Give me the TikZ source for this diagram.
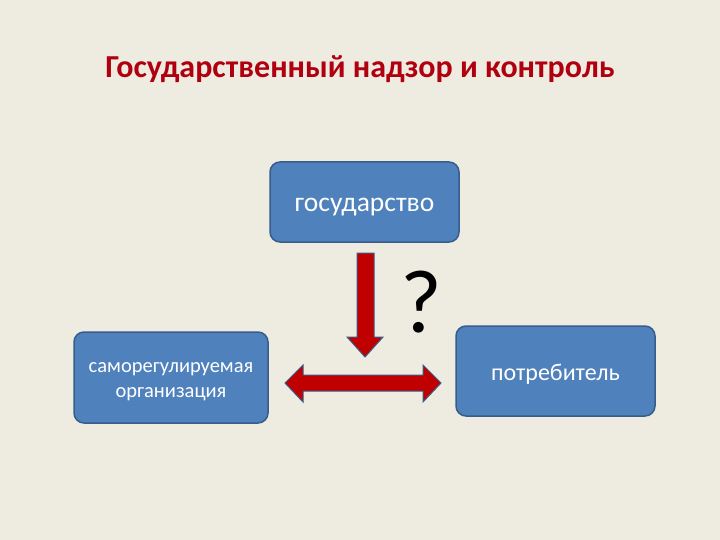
\documentclass[tikz,border=0pt]{standalone}
\usepackage{fontspec}
\setmainfont{Carlito}
\usetikzlibrary{positioning}
\definecolor{slidebg}{RGB}{238,236,225}
\definecolor{boxblue}{RGB}{79,129,189}
\definecolor{boxedge}{RGB}{56,93,138}
\definecolor{arrowred}{RGB}{192,0,0}
\definecolor{titlered}{RGB}{176,0,16}
\begin{document}
\begin{tikzpicture}[x=1pt,y=-1pt,
  box/.style={draw=boxedge,fill=boxblue,line width=1.5pt,rounded corners=10pt,text=white,align=center,inner sep=0pt,text depth=0pt},
  blockarrow/.style={draw=boxedge,fill=arrowred,line width=1pt,line join=miter}]
\useasboundingbox[fill=slidebg] (0,0) rectangle (720,540);
\node[font=\fontsize{32}{38}\selectfont\bfseries,text=titlered,anchor=base] (title) at (360,78) {Государственный надзор и контроль};
\node[box,minimum width=189pt,minimum height=80pt,text height=19.8pt,font=\fontsize{27.5}{32}\selectfont] (state) at (364.5,202) {государство};
\node[box,minimum width=194pt,minimum height=91pt,text height=39.6pt,font=\fontsize{20.5}{25}\selectfont] (sro) at (171,377.5) {саморегулируемая\\организация};
\node[box,minimum width=199pt,minimum height=90pt,text height=18.2pt,font=\fontsize{24}{28}\selectfont] (consumer) at (555.5,371) {потребитель};
% block arrows
\draw[blockarrow] (357,253) -- (374,253) -- (374,337) -- (383,337) -- (365,357) -- (347,337) -- (357,337) -- cycle;
\draw[blockarrow] (285,383) -- (303,365) -- (303,375) -- (423,375) -- (423,365) -- (441,383) -- (423,402) -- (423,391) -- (303,391) -- (303,402) -- cycle;
\node[font=\fontsize{90}{100}\selectfont,anchor=base] (question) at (421,332) {?};
\end{tikzpicture}
\end{document}
